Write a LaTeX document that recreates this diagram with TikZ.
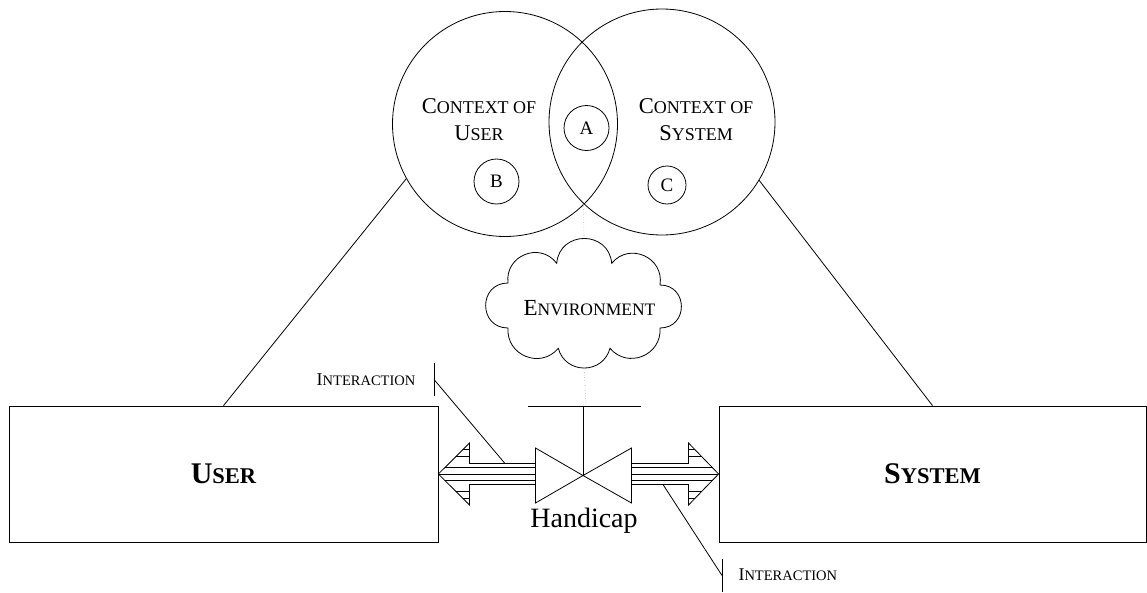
\documentclass[tikz,border=0pt]{standalone}
\usepackage{fontspec}
\setmainfont{Liberation Serif}
% fake small caps: first letter at #1, the rest at #2
\newcommand\fsc[4]{{\fontsize{#1}{#1}\selectfont #3\fontsize{#2}{#2}\selectfont #4}}
\begin{document}
\begin{tikzpicture}[x=1pt,y=-1pt,
  every node/.style={inner sep=0pt},
  outl/.style={line width=0.8pt, draw=black},
  ctx/.style={circle, outl, minimum size=#1},
  tag/.style={circle, outl, minimum size=#1, font=\fontsize{19}{19}\selectfont},
  box/.style={rectangle, outl, minimum height=136pt},
  hatch/.style={line width=0.6pt},
  dots/.style={draw=gray!70, dotted, line width=0.6pt}]
\useasboundingbox (0,0) rectangle (1147,592);

% the two context circles and their members
\node[ctx=225pt] (lc) at (505,124) {};
\node[ctx=226pt] (rc) at (662,122) {};
\node[align=center, font=\fontsize{22.5}{27}\selectfont] (lct) at (479,120)
  {C{\fontsize{18}{27}\selectfont ONTEXT OF}\\U{\fontsize{18}{27}\selectfont SER}};
\node[align=center, font=\fontsize{22.5}{27}\selectfont] (rct) at (696,120)
  {C{\fontsize{18}{27}\selectfont ONTEXT OF}\\S{\fontsize{18}{27}\selectfont YSTEM}};
\node[tag=45pt] (a) at (586.5,128) {A};
\node[tag=45pt] (b) at (496.5,181.5) {B};
\node[tag=38pt] (c) at (667,185) {C};
\coordinate (lowmeet) at (583.5,204);

% user and system blocks
\node[box, minimum width=429pt] (user) at (223.5,474)
  {\bfseries\fsc{30}{22.5}{U}{SER}};
\node[box, minimum width=427pt] (system) at (932.5,474)
  {\bfseries\fsc{30}{22.5}{S}{YSTEM}};

\draw[outl] (lc.209) -- (user.north);
\draw[outl] (rc.329) -- (system.north);

% environment cloud
\coordinate (ctop) at (584,239);
\coordinate (cbot) at (584,367);
\draw[outl]
  (508,328) to[bend left=90, looseness=1.7] (508,283)
  to[bend left=75, looseness=1.35] (556.7,263.3)
  to[bend left=85, looseness=1.55] (611.7,263.3)
  to[bend left=75, looseness=1.35] (660,285)
  to[bend left=90, looseness=1.7] (660,328)
  to[bend left=72, looseness=1.30] (610,348.3)
  to[bend left=75, looseness=1.35] (558.3,348.3)
  to[bend left=72, looseness=1.30] cycle;
\node[anchor=base] (env) at (589.5,315) {\fsc{23}{17.5}{E}{NVIRONMENT}};

% hatched arrows between the blocks and the valve
\begin{scope}
  \clip (user.east) -- (469.5,443) -- (469.5,463.5) -- (535.5,463.5)
        -- (535.5,484.5) -- (469.5,484.5) -- (469.5,505) -- cycle;
  \foreach \y in {449,456,467,474,480.5,491,498}
    \draw[hatch] (430,\y) -- (540,\y);
\end{scope}
\draw[outl, line join=miter] (user.east) -- (469.5,443) -- (469.5,463.5) -- (535.5,463.5)
      -- (535.5,484.5) -- (469.5,484.5) -- (469.5,505) -- cycle;
\begin{scope}
  \clip (system.west) -- (688.5,443) -- (688.5,463.5) -- (631.5,463.5)
        -- (631.5,484.5) -- (688.5,484.5) -- (688.5,505) -- cycle;
  \foreach \y in {449,456,467,474,480.5,491,498}
    \draw[hatch] (625,\y) -- (725,\y);
\end{scope}
\draw[outl, line join=miter] (system.west) -- (688.5,443) -- (688.5,463.5) -- (631.5,463.5)
      -- (631.5,484.5) -- (688.5,484.5) -- (688.5,505) -- cycle;

% valve with its stem and bar
\coordinate (vc) at (583,475.5);
\coordinate (stemtop) at (583,406);
\coordinate (bartip) at (586,406);
\draw[outl, fill=white] (535.5,448) -- (535.5,503) -- (vc) -- cycle;
\draw[outl, fill=white] (631.5,448) -- (631.5,503) -- (vc) -- cycle;
\draw[outl] (vc) -- (stemtop);
\draw[outl] (528,406) -- (641,406);
\node[anchor=base, font=\fontsize{28}{28}\selectfont] (hc) at (584,527.3) {Handicap};

\draw[dots] (lowmeet) -- (ctop);
\draw[dots] (cbot) -- (bartip);

% interaction callouts
\node[anchor=base] (int1) at (366,385) {\fsc{18}{14.5}{I}{NTERACTION}};
\coordinate (t1a) at (434,363);
\coordinate (t1b) at (434,396);
\coordinate (t1m) at (434,379.5);
\coordinate (s1) at (505,463.5);
\draw[outl] (t1a) -- (t1b);
\draw[outl] (t1m) -- (s1);

\node[anchor=base west] (int2) at (738.3,580.7) {\fsc{18}{14.5}{I}{NTERACTION}};
\coordinate (t2a) at (722,559);
\coordinate (t2b) at (722,592);
\coordinate (t2m) at (722,575.5);
\coordinate (s2) at (663,484.5);
\draw[outl] (t2a) -- (t2b);
\draw[outl] (t2m) -- (s2);
\end{tikzpicture}
\end{document}
